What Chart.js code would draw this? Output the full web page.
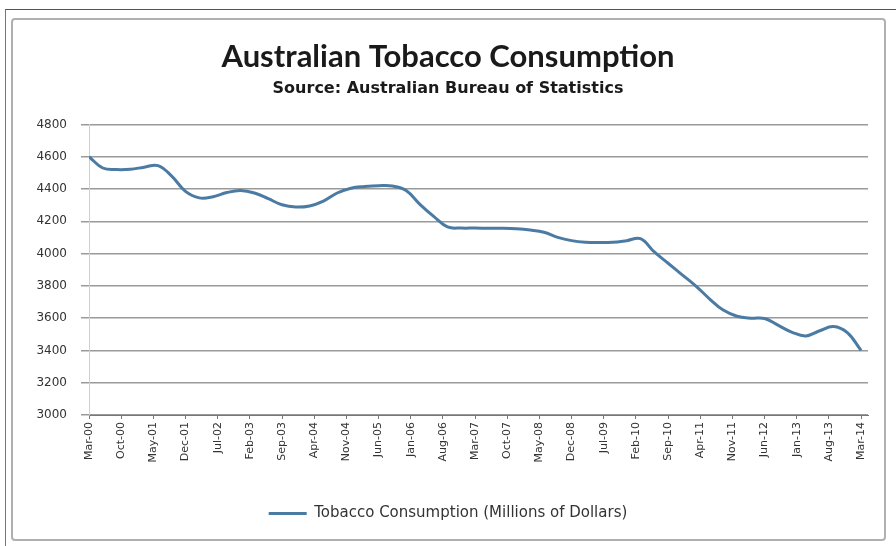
<!DOCTYPE html>
<html>
<head>
<meta charset="utf-8">
<script src="https://cdn.jsdelivr.net/npm/chart.js@4.4.1/dist/chart.umd.min.js"></script>
<style>
  html, body { margin: 0; padding: 0; background: #fff; }
  #wrap { position: relative; width: 896px; height: 546px; overflow: hidden; }
  #outer { position: absolute; left: 5px; top: 9px; width: 900px; height: 600px; border-left: 1px solid #777; border-top: 1px solid #555; }
  #inner { position: absolute; left: 11px; top: 18px; width: 871px; height: 519px; border: 2px solid #b0b0b0; border-radius: 4px; }
  canvas { position: absolute; left: 0; top: 0; }
</style>
</head>
<body>
<div id="wrap">
  <div id="outer"></div>
  <div id="inner"></div>
  <canvas id="myChart" width="896" height="546"></canvas>
</div>
<script>
// quarterly observations
var quarters = [
  'Mar-00','Jun-00','Sep-00','Dec-00',
  'Mar-01','Jun-01','Sep-01','Dec-01',
  'Mar-02','Jun-02','Sep-02','Dec-02',
  'Mar-03','Jun-03','Sep-03','Dec-03',
  'Mar-04','Jun-04','Sep-04','Dec-04',
  'Mar-05','Jun-05','Sep-05','Dec-05',
  'Mar-06','Jun-06','Sep-06','Dec-06',
  'Mar-07','Jun-07','Sep-07','Dec-07',
  'Mar-08','Jun-08','Sep-08','Dec-08',
  'Mar-09','Jun-09','Sep-09','Dec-09',
  'Mar-10','Jun-10','Sep-10','Dec-10',
  'Mar-11','Jun-11','Sep-11','Dec-11',
  'Mar-12','Jun-12','Sep-12','Dec-12',
  'Mar-13','Jun-13','Sep-13','Dec-13',
  'Mar-14'
];

var consumption = [
  4600, 4530, 4520, 4522,
  4535, 4545, 4480, 4385,
  4345, 4352, 4378, 4390,
  4375, 4340, 4302, 4288,
  4295, 4325, 4375, 4405,
  4415, 4420, 4418, 4390,
  4305, 4230, 4165, 4158,
  4158, 4157, 4157, 4154,
  4146, 4132, 4100, 4080,
  4070, 4068, 4070, 4080,
  4092, 4010, 3940, 3870,
  3800, 3720, 3650, 3612,
  3600, 3598, 3555, 3512,
  3490, 3522, 3548, 3510,
  3400
];

var tickLabels = [
  'Mar-00','Oct-00','May-01','Dec-01','Jul-02','Feb-03','Sep-03','Apr-04',
  'Nov-04','Jun-05','Jan-06','Aug-06','Mar-07','Oct-07','May-08','Dec-08',
  'Jul-09','Feb-10','Sep-10','Apr-11','Nov-11','Jun-12','Jan-13','Aug-13','Mar-14'
];

var yTicks = [3000, 3200, 3400, 3600, 3800, 4000, 4200, 4400, 4600, 4800];

var monthNames = ['Jan','Feb','Mar','Apr','May','Jun','Jul','Aug','Sep','Oct','Nov','Dec'];

// months counted from Mar-00
function monthIndex(label) {
  var p = label.split('-');
  return parseInt(p[1], 10) * 12 + monthNames.indexOf(p[0]) - 2;
}

var points = quarters.map(function (q, i) {
  return { x: monthIndex(q), y: consumption[i] };
});

var ctx = document.getElementById('myChart').getContext('2d');
var myChart = new Chart(ctx, {
  type: 'line',
  data: {
    datasets: [{
      label: 'Tobacco Consumption (Millions of Dollars)',
      data: points,
      borderColor: '#4b7ba3',
      backgroundColor: '#4b7ba3',
      borderWidth: 3,
      pointRadius: 0,
      tension: 0.4,
      fill: false
    }]
  },
  options: {
    responsive: false,
    animation: false,
    layout: { padding: { left: 0, right: 0, top: 0, bottom: 15 } },
    plugins: {
      title: {
        display: true,
        text: 'Australian Tobacco Consumption',
        color: '#1a1a1a',
        font: { family: 'Lato', size: 31, weight: 'bold' },
        padding: { top: 38, bottom: 4 }
      },
      subtitle: {
        display: true,
        text: 'Source: Australian Bureau of Statistics',
        color: '#1a1a1a',
        font: { family: 'DejaVu Sans', size: 16, weight: 'bold' },
        padding: { top: 0, bottom: 26 }
      },
      legend: {
        position: 'bottom',
        labels: {
          usePointStyle: true,
          pointStyle: 'line',
          pointStyleWidth: 38,
          color: '#333',
          font: { family: 'DejaVu Sans', size: 15 },
          padding: 9
        }
      },
      tooltip: { enabled: false }
    },
    scales: {
      x: {
        type: 'linear',
        min: 0,
        max: 169.5,
        afterFit: function (scale) { scale.height = 82; },
        afterBuildTicks: function (axis) {
          axis.ticks = tickLabels.map(function (l) { return { value: monthIndex(l) }; });
        },
        ticks: {
          autoSkip: false,
          maxRotation: 90,
          minRotation: 90,
          padding: 3,
          color: '#333',
          font: { family: 'DejaVu Sans', size: 11 },
          callback: function (v) {
            for (var i = 0; i < tickLabels.length; i++) {
              if (monthIndex(tickLabels[i]) === v) return tickLabels[i];
            }
            return '';
          }
        },
        grid: { drawOnChartArea: false, drawTicks: true, tickLength: 4, color: '#777' },
        border: { color: '#777', width: 1 }
      },
      y: {
        min: 3000,
        max: 4800,
        afterFit: function (scale) { scale.width = 89; },
        afterBuildTicks: function (axis) {
          axis.ticks = yTicks.map(function (v) { return { value: v }; });
        },
        ticks: {
          padding: 14,
          color: '#333',
          font: { family: 'DejaVu Sans', size: 12 },
          callback: function (v) { return String(v); }
        },
        grid: { color: '#9a9a9a', lineWidth: 1.5, tickLength: 8 },
        border: { color: '#cfcfcf', width: 1 }
      },
      // empty right-hand box so the plot stops short of the frame
      yRight: {
        position: 'right',
        afterFit: function (scale) { scale.width = 28; },
        ticks: { display: false },
        grid: { display: false },
        border: { display: false }
      }
    }
  }
});
</script>
</body>
</html>
